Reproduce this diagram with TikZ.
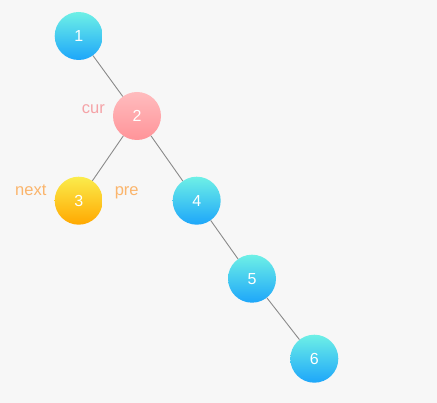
\documentclass[tikz,border=0pt]{standalone}
\usepackage{fontspec}
\setmainfont{Liberation Sans}
\definecolor{bg}{HTML}{F7F7F7}
\definecolor{btop}{HTML}{6EF0E6}
\definecolor{bbot}{HTML}{1DA6FA}
\definecolor{ptop}{HTML}{FFBCBE}
\definecolor{pbot}{HTML}{FF9499}
\definecolor{ytop}{HTML}{FBEC4C}
\definecolor{ybot}{HTML}{FFA800}
\definecolor{curc}{HTML}{F5A3A7}
\definecolor{orc}{HTML}{FBB56C}
\definecolor{edgec}{HTML}{8A8A8A}
\tikzset{
  tnode/.style={circle, minimum size=48pt, inner sep=0pt, text=white, font=\fontsize{16}{18}\selectfont},
  bluen/.style={tnode, top color=btop, bottom color=bbot},
  pinkn/.style={tnode, top color=ptop, bottom color=pbot},
  yelln/.style={tnode, top color=ytop, bottom color=ybot},
  edge/.style={draw=edgec, line width=0.9pt},
  lab/.style={font=\fontsize{16.5}{18}\selectfont, inner sep=0pt, anchor=base}
}
\begin{document}
\begin{tikzpicture}[x=1pt,y=-1pt]
\fill[bg] (0,0) rectangle (437,403);
\useasboundingbox (0,0) rectangle (437,403);
\node[bluen] (n1) at (78.7,36) {1};
\node[pinkn] (n2) at (137,116) {2};
\node[yelln] (n3) at (78.7,200.7) {3};
\node[bluen] (n4) at (196.7,200.7) {4};
\node[bluen] (n5) at (252,278.7) {5};
\node[bluen] (n6) at (314.3,358.7) {6};
\draw[edge] (n1) -- (n2);
\draw[edge] (n2) -- (n3);
\draw[edge] (n2) -- (n4);
\draw[edge] (n4) -- (n5);
\draw[edge] (n5) -- (n6);
\node[lab, text=curc] (lcur) at (93.3,113.3) {cur};
\node[lab, text=orc] (lnext) at (30.8,195.7) {next};
\node[lab, text=orc] (lpre) at (126.7,195.7) {pre};
\end{tikzpicture}
\end{document}
